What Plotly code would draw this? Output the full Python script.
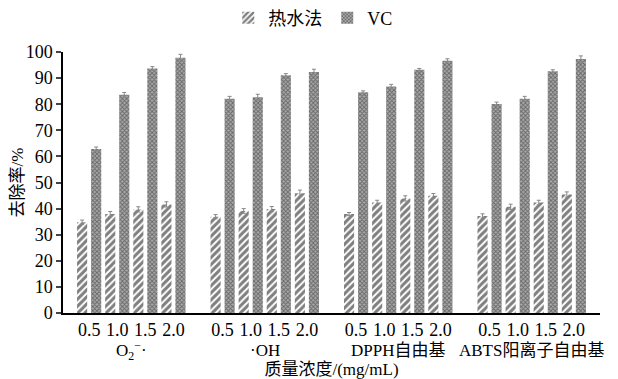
import plotly.graph_objects as go

groups = ["O<sub>2</sub><sup>−</sup>·", "·OH", "DPPH自由基", "ABTS阳离子自由基"]
concs = ["0.5", "1.0", "1.5", "2.0"]
hot_water = [34.8, 37.9, 39.7, 41.6,
             36.9, 39.1, 39.8, 45.9,
             37.9, 42.3, 43.9, 44.9,
             37.2, 40.7, 42.3, 45.4]
hot_err = [0.8, 1.0, 1.0, 1.0,
           0.8, 0.9, 1.0, 1.2,
           0.6, 0.9, 1.0, 0.9,
           0.8, 1.0, 0.9, 1.0]
vc = [62.8, 83.6, 93.7, 97.8,
      82.1, 82.7, 91.1, 92.3,
      84.6, 86.8, 93.2, 96.6,
      80.1, 82.1, 92.6, 97.3]
vc_err = [0.8, 0.9, 0.7, 1.3,
          0.9, 1.1, 0.6, 1.1,
          0.5, 0.8, 0.5, 0.8,
          0.7, 0.9, 0.6, 1.2]

GAP = 0.75
x = []
for g in range(len(groups)):
    for c in range(len(concs)):
        x.append(g * (len(concs) + GAP) + c)
ticktext = concs * len(groups)

FONT = "Liberation Serif, Times New Roman, Noto Sans CJK SC"

fig = go.Figure()
fig.add_trace(go.Bar(
    x=x, y=hot_water, name="热水法", width=0.36, offset=-0.43,
    marker=dict(color="white", line=dict(width=0),
                pattern=dict(shape="/", fgcolor="black", bgcolor="white",
                             size=5, solidity=0.6)),
    error_y=dict(type="data", array=hot_err, color="#888", thickness=1, width=2),
))
fig.add_trace(go.Bar(
    x=x, y=vc, name="VC", width=0.36, offset=0.07,
    marker=dict(color="white", line=dict(width=0),
                pattern=dict(shape="x", fgcolor="#222", bgcolor="#aaa",
                             size=3, solidity=0.5)),
    error_y=dict(type="data", array=vc_err, color="#888", thickness=1, width=2),
))

n = len(concs)
span = (len(groups) - 1) * (n + GAP) + (n - 1)
annotations = []
for g, name in enumerate(groups):
    annotations.append(dict(
        x=g * (n + GAP) + (n - 1) / 2, y=-0.145, xref="x", yref="paper",
        text=name, showarrow=False, yanchor="middle",
        font=dict(family=FONT, size=17, color="black")))

fig.update_layout(
    width=610, height=371,
    margin=dict(l=55, r=18, t=44, b=66, autoexpand=False),
    paper_bgcolor="white", plot_bgcolor="white",
    font=dict(family=FONT, size=18, color="black"),
    showlegend=True,
    legend=dict(orientation="h", x=0.466, xanchor="center", y=1.13, yanchor="middle",
                font=dict(size=18), itemwidth=30, tracegroupgap=0),
    annotations=annotations,
    xaxis=dict(range=[-0.93, span + 0.93], tickvals=x, ticktext=ticktext,
               showline=True, linecolor="black", linewidth=1.5, ticks="",
               showgrid=False, zeroline=False, tickfont=dict(size=18),
               automargin=False,
               title=dict(text="质量浓度/(mg/mL)", standoff=31, font=dict(size=17))),
    yaxis=dict(range=[0, 100], dtick=10, showline=True, linecolor="black",
               linewidth=1.5, ticks="outside", ticklen=5, tickwidth=1.5,
               showgrid=False, zeroline=False, tickfont=dict(size=18),
               automargin=False,
               title=dict(text="去除率/%", standoff=12, font=dict(size=17))),
)

fig.write_html("out.html")
